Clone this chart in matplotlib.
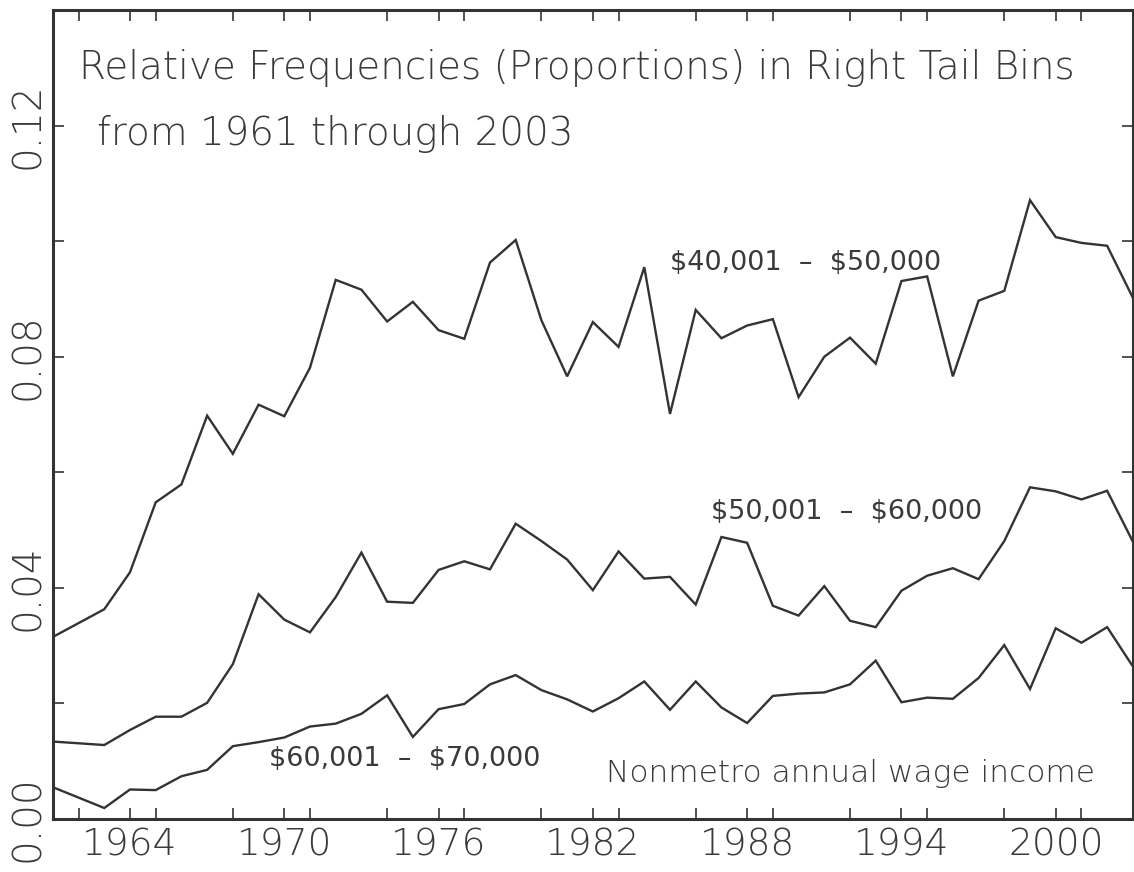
import matplotlib
matplotlib.use('Agg')
import matplotlib.pyplot as plt
from matplotlib.ticker import MultipleLocator, FixedLocator

# years (1962 is missing in the series)
years = [1961] + list(range(1963, 2004))

# $40,001 - $50,000
bin_40_50 = [0.0315, 0.0363, 0.0427, 0.0548, 0.0579, 0.0698, 0.0632,
             0.0717, 0.0697, 0.0781, 0.0933, 0.0916, 0.0861, 0.0895,
             0.0846, 0.0831, 0.0963, 0.1002, 0.0863, 0.0766, 0.0860,
             0.0817, 0.0955, 0.0701, 0.0881, 0.0832, 0.0854, 0.0865,
             0.0730, 0.0800, 0.0833, 0.0788, 0.0931, 0.0939, 0.0766,
             0.0897, 0.0914, 0.1071, 0.1007, 0.0997, 0.0992, 0.0902]

# $50,001 - $60,000
bin_50_60 = [0.0134, 0.0128, 0.0154, 0.0177, 0.0177, 0.0201, 0.0268,
             0.0389, 0.0345, 0.0323, 0.0384, 0.0461, 0.0376, 0.0374,
             0.0431, 0.0446, 0.0432, 0.0511, 0.0481, 0.0449, 0.0396,
             0.0463, 0.0416, 0.0419, 0.0371, 0.0488, 0.0478, 0.0369,
             0.0352, 0.0403, 0.0343, 0.0332, 0.0395, 0.0421, 0.0434,
             0.0415, 0.0481, 0.0574, 0.0567, 0.0553, 0.0568, 0.0480]

# $60,001 - $70,000
bin_60_70 = [0.0055, 0.0019, 0.0051, 0.0050, 0.0074, 0.0085, 0.0126,
             0.0133, 0.0141, 0.0160, 0.0165, 0.0182, 0.0214, 0.0142,
             0.0190, 0.0199, 0.0233, 0.0249, 0.0223, 0.0207, 0.0186,
             0.0209, 0.0238, 0.0189, 0.0238, 0.0193, 0.0166, 0.0213,
             0.0217, 0.0219, 0.0233, 0.0274, 0.0202, 0.0210, 0.0208,
             0.0244, 0.0301, 0.0225, 0.0330, 0.0305, 0.0332, 0.0264]

x_ticklabels = [1964, 1970, 1976, 1982, 1988, 1994, 2000]
y_ticklabels = [0.00, 0.04, 0.08, 0.12]

ink = '#333333'
txt = '#3a3a3a'

fig = plt.figure(figsize=(11.34, 8.72), dpi=100)
ax = fig.add_axes([0.0466, 0.0608, 0.9524, 0.9277])

for series in (bin_40_50, bin_50_60, bin_60_70):
	ax.plot(years, series, color=ink, linewidth=1.7, solid_joinstyle='miter')

ax.set_xlim(1961, 2003)
ax.set_ylim(0, 0.14)

# ticks: labelled every 6 years / 0.04, unlabelled in between
ax.xaxis.set_major_locator(FixedLocator(x_ticklabels))
ax.xaxis.set_minor_locator(MultipleLocator(3))
ax.yaxis.set_major_locator(FixedLocator(y_ticklabels))
ax.yaxis.set_minor_locator(MultipleLocator(0.02))
ax.set_xticklabels([str(y) for y in x_ticklabels])
ax.set_yticklabels(['%.2f' % v for v in y_ticklabels], rotation=90, va='center')

ax.tick_params(which='both', direction='in', length=8, width=1.2, color=ink,
			   top=True, right=True, labelcolor=txt)
ax.tick_params(axis='x', labelsize=27, pad=6)
ax.tick_params(axis='y', labelsize=28, pad=4)
for lab in ax.get_xticklabels() + ax.get_yticklabels():
	lab.set_fontweight('light')

for sp in ax.spines.values():
	sp.set_linewidth(2.2)
	sp.set_color(ink)

# titles and annotations
ax.text(1962.0, 0.1300, 'Relative Frequencies (Proportions) in Right Tail Bins',
		fontsize=28, color=txt, fontweight='light', va='center', ha='left')
ax.text(1962.7, 0.1185, 'from 1961 through 2003',
		fontsize=28, color=txt, fontweight='light', va='center', ha='left')

ax.text(1985.0, 0.0962, r'\$40,001  –  \$50,000', fontsize=19.5, color=txt,
		va='center', ha='left')
ax.text(1986.6, 0.0532, r'\$50,001  –  \$60,000', fontsize=19.5, color=txt,
		va='center', ha='left')
ax.text(1969.4, 0.0104, r'\$60,001  –  \$70,000', fontsize=19.5, color=txt,
		va='center', ha='left')
ax.text(1982.5, 0.0079, 'Nonmetro annual wage income', fontsize=22.5,
		color=txt, fontweight='light', va='center', ha='left')

plt.savefig('out.png', dpi=100)
